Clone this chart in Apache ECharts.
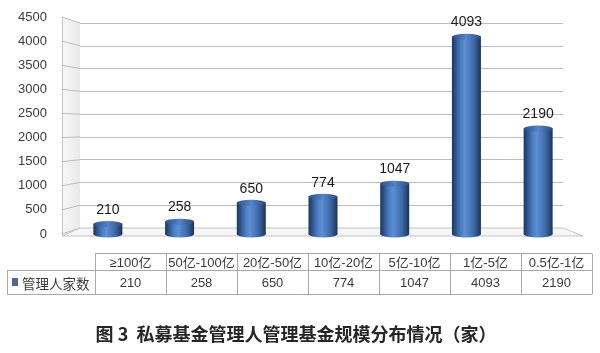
<!DOCTYPE html>
<html><head><meta charset="utf-8">
<script src="https://cdn.jsdelivr.net/npm/echarts@6/dist/echarts.min.js"></script>
<style>html,body{margin:0;padding:0;background:#fff}#c{width:600px;height:353px}</style>
</head><body><div id="c"></div>
<script>
// ---- data ----
const categories = ['≥100亿', '50亿-100亿', '20亿-50亿', '10亿-20亿', '5亿-10亿', '1亿-5亿', '0.5亿-1亿'];
const managerCounts = [210, 258, 650, 774, 1047, 4093, 2190];
const seriesName = '管理人家数';
const yTicks = [0, 500, 1000, 1500, 2000, 2500, 3000, 3500, 4000, 4500];
const titleText = '图 3  私募基金管理人管理基金规模分布情况（家）';

// ---- layout ----
const yMin = yTicks[0], yMax = yTicks[yTicks.length - 1], yStep = yTicks[1] - yTicks[0];
const front = { left: 72, right: 26, top: 17, bottom: 119 };   // bars (front plane)
const back = { left: 80, right: 37, top: 23, bottom: 125 };    // back wall
const H = 353, W = 600;
const frontX = 62;
function frontY(v) { return front.top + (H - front.bottom - front.top) * (1 - (v - yMin) / (yMax - yMin)); }

const chart = echarts.init(document.getElementById('c'), null, { renderer: 'canvas' });

// table built from arrays
const tbl = { left: 95, colW: 71, legendLeft: 7, y0: 253.5, y1: 270.5, y2: 294.5 };
const lineStyle = { stroke: '#a9a9a9', lineWidth: 1 };
const tableEls = [];
const tRight = tbl.left + tbl.colW * categories.length;
tableEls.push({ type: 'line', shape: { x1: tbl.left, y1: tbl.y0, x2: tRight, y2: tbl.y0 }, style: lineStyle });
tableEls.push({ type: 'line', shape: { x1: tbl.legendLeft, y1: tbl.y1, x2: tRight, y2: tbl.y1 }, style: lineStyle });
tableEls.push({ type: 'line', shape: { x1: tbl.legendLeft, y1: tbl.y2, x2: tRight, y2: tbl.y2 }, style: lineStyle });
tableEls.push({ type: 'line', shape: { x1: tbl.legendLeft + 0.5, y1: tbl.y1, x2: tbl.legendLeft + 0.5, y2: tbl.y2 }, style: lineStyle });
for (let i = 0; i <= categories.length; i++) {
  const x = tbl.left + tbl.colW * i + 0.5;
  tableEls.push({ type: 'line', shape: { x1: x, y1: tbl.y0, x2: x, y2: tbl.y2 }, style: lineStyle });
}
categories.forEach((c, i) => {
  const cx = tbl.left + tbl.colW * (i + 0.5);
  tableEls.push({ type: 'text', x: cx, y: (tbl.y0 + tbl.y1) / 2 + 1, style: { text: c, align: 'center', verticalAlign: 'middle', fill: '#3a3a3a', font: '13px "Liberation Sans", "Noto Sans CJK SC", sans-serif' } });
  tableEls.push({ type: 'text', x: cx, y: (tbl.y1 + tbl.y2) / 2 + 1, style: { text: String(managerCounts[i]), align: 'center', verticalAlign: 'middle', fill: '#3a3a3a', font: '13px "Liberation Sans", "Noto Sans CJK SC", sans-serif' } });
});
tableEls.push({ type: 'rect', shape: { x: 12, y: 278, width: 6, height: 8 }, style: { fill: '#50698f' } });
tableEls.push({ type: 'text', x: 22, y: (tbl.y1 + tbl.y2) / 2 + 1, style: { text: seriesName, align: 'left', verticalAlign: 'middle', fill: '#3a3a3a', font: '13.5px "Noto Sans CJK SC", sans-serif' } });
tableEls.push({ type: 'text', x: 296, y: 334, style: { text: titleText, align: 'center', verticalAlign: 'middle', fill: '#262626', font: 'bold 18px "Noto Sans CJK SC", sans-serif' } });

const bodyGrad = new echarts.graphic.LinearGradient(0, 0, 1, 0, [
  { offset: 0, color: '#1b355e' },
  { offset: 0.3, color: '#4a7cc2' },
  { offset: 0.45, color: '#5d8fd4' },
  { offset: 0.75, color: '#3e6aa8' },
  { offset: 1, color: '#1a3358' }
]);
const topGrad = new echarts.graphic.LinearGradient(0, 0, 1, 0, [
  { offset: 0, color: '#2d5089' },
  { offset: 0.5, color: '#5583c6' },
  { offset: 1, color: '#2b4c80' }
]);

const option = {
  animation: false,
  backgroundColor: '#ffffff',
  grid: [
    { left: front.left, right: front.right, top: front.top, bottom: front.bottom },
    { left: back.left, right: back.right, top: back.top, bottom: back.bottom }
  ],
  xAxis: [
    { type: 'category', gridIndex: 0, data: categories, show: false },
    { type: 'value', gridIndex: 1, min: 0, max: 1, show: false }
  ],
  yAxis: [
    { type: 'value', gridIndex: 0, min: yMin, max: yMax, interval: yStep,
      axisLine: { show: false }, axisTick: { show: false }, splitLine: { show: false },
      axisLabel: { margin: 25, color: '#3a3a3a', fontSize: 13, fontFamily: '"Liberation Sans", sans-serif',
        formatter: function (v) { return String(v); } } },
    { type: 'value', gridIndex: 1, min: yMin, max: yMax, interval: yStep,
      axisLine: { show: false }, axisTick: { show: false }, axisLabel: { show: false },
      splitLine: { show: true, lineStyle: { color: '#bdbdbd', width: 1 } } }
  ],
  graphic: tableEls,
  series: [
    { // 3D walls (left wall + floor) decoration
      type: 'custom', xAxisIndex: 1, yAxisIndex: 1, z: 1, silent: true,
      data: [[0, 0]],
      renderItem: function (params, api) {
        const children = [];
        const bTop = api.coord([0, yMax]), bBot = api.coord([0, yMin]), bBotR = api.coord([1, yMin]);
        const fTop = frontY(yMax), fBot = frontY(yMin);
        children.push({ type: 'polygon', shape: { points: [[frontX, fTop], bTop, bBot, [frontX, fBot + 2]] },
          style: { fill: new echarts.graphic.LinearGradient(0, 0, 1, 0, [{ offset: 0, color: '#f7f7f7' }, { offset: 1, color: '#e9e9e9' }]) } });
        yTicks.forEach(v => {
          const b = api.coord([0, v]);
          children.push({ type: 'line', shape: { x1: frontX, y1: frontY(v), x2: b[0], y2: b[1] }, style: { stroke: '#bdbdbd', lineWidth: 1 } });
        });
        children.push({ type: 'line', shape: { x1: frontX + 0.5, y1: fTop, x2: frontX + 0.5, y2: fBot + 2 }, style: { stroke: '#c8c8c8', lineWidth: 1 } });
        children.push({ type: 'polygon', shape: { points: [[frontX, fBot + 2], bBot, bBotR, [bBotR[0] + 20, fBot + 2]] },
          style: { fill: '#f6f6f6', stroke: '#c4c4c4', lineWidth: 1 } });
        return { type: 'group', children: children };
      }
    },
    { // bottom ellipse
      type: 'pictorialBar', xAxisIndex: 0, yAxisIndex: 0, z: 2, silent: true,
      data: managerCounts, symbol: 'circle', symbolSize: [29, 7], symbolPosition: 'start', symbolOffset: [0, '50%'],
      itemStyle: { color: bodyGrad }
    },
    {
      name: seriesName, type: 'bar', xAxisIndex: 0, yAxisIndex: 0, z: 3,
      data: managerCounts, barWidth: 29,
      itemStyle: { color: bodyGrad },
      label: { show: true, position: 'top', distance: 7, color: '#1a1a1a', fontSize: 14, fontFamily: '"Liberation Sans", sans-serif' }
    },
    { // top ellipse
      type: 'pictorialBar', xAxisIndex: 0, yAxisIndex: 0, z: 4, silent: true,
      data: managerCounts, symbol: 'circle', symbolSize: [29, 6], symbolPosition: 'end', symbolOffset: [0, '-50%'],
      itemStyle: { color: topGrad, borderColor: '#6c98d6', borderWidth: 0.6 }
    }
  ]
};
chart.setOption(option);
</script>
</body></html>
